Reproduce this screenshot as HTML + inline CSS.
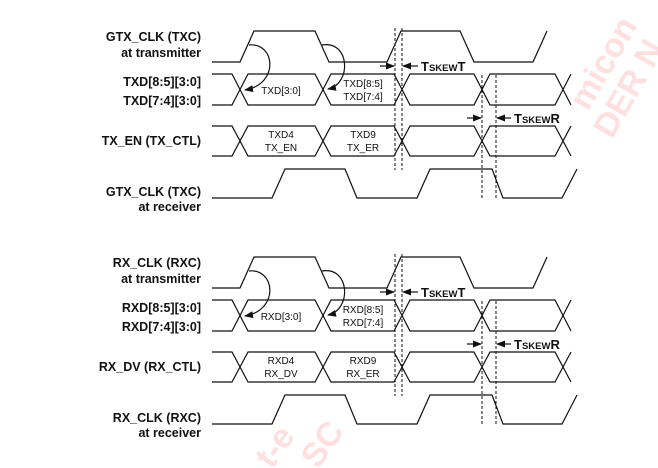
<!DOCTYPE html>
<html><head><meta charset="utf-8"><style>
html,body{margin:0;padding:0;background:#fff;}
svg{display:block;}
.lbl{font-family:"Liberation Sans",sans-serif;font-weight:bold;font-size:12.5px;fill:#111;text-anchor:end;}
.in{font-family:"Liberation Sans",sans-serif;font-size:10px;fill:#111;text-anchor:middle;}
.sk{font-family:"Liberation Sans",sans-serif;font-weight:bold;fill:#111;}
.wm{font-family:"Liberation Sans",sans-serif;font-weight:bold;fill:#ffe0e0;font-size:34px;}
</style></head><body>
<svg width="658" height="468" viewBox="0 0 658 468" xmlns="http://www.w3.org/2000/svg">
<defs>
<marker id="ah" markerWidth="9" markerHeight="8" refX="8" refY="4" orient="auto" markerUnits="userSpaceOnUse"><path d="M0,0.5 L9,4 L0,7.5 z" fill="#111"/></marker>
<g id="sec">
 <g fill="none" stroke="#111" stroke-width="1.2">
  <path d="M212,62 H240 L254,31 H315 L329,62 H387 L401,31 H460 L474,62 H533 L547,31"/>
  <path d="M212,74 H232 L248,105 H315 L331,74 H394 L410,105 H474 L490,74 H555 L571,105"/>
  <path d="M212,105 H232 L248,74 H315 L331,105 H394 L410,74 H474 L490,105 H555 L571,74"/>
  <path d="M212,126 H232 L248,156 H315 L331,126 H394 L410,156 H474 L490,126 H555 L571,156"/>
  <path d="M212,156 H232 L248,126 H315 L331,156 H394 L410,126 H474 L490,156 H555 L571,126"/>
  <path d="M212,198 H272 L285,169 H345 L357,198 H417 L430,169 H492 L503,198 H562 L577,169"/>
  <path d="M249,45 C275,42 280,84 245,90" marker-end="url(#ah)"/>
  <path d="M322,45 C350,40 352,84 328,89" marker-end="url(#ah)"/>
 </g>
 <g stroke="#111" stroke-width="1" stroke-dasharray="3,2">
  <line x1="395" y1="28" x2="395" y2="170"/>
  <line x1="402" y1="28" x2="402" y2="170"/>
  <line x1="482" y1="75" x2="482" y2="200"/>
  <line x1="496" y1="75" x2="496" y2="200"/>
 </g>
 <g stroke="#111" stroke-width="1.2">
  <line x1="380" y1="66" x2="394" y2="66" marker-end="url(#ah)"/>
  <line x1="418" y1="66" x2="403" y2="66" marker-end="url(#ah)"/>
  <line x1="467" y1="118" x2="481" y2="118" marker-end="url(#ah)"/>
  <line x1="511" y1="118" x2="497" y2="118" marker-end="url(#ah)"/>
 </g>
 <text class="sk" x="421" y="71" font-size="13">T<tspan font-size="9.5">SKEW</tspan>T</text>
 <text class="sk" x="514" y="123" font-size="13">T<tspan font-size="9.5">SKEW</tspan>R</text>
</g>
</defs>
<text class="wm" transform="translate(588,112) rotate(-60)" font-size="30">micon</text>
<text class="wm" transform="translate(612,140) rotate(-60)" font-size="30">DER N</text>
<text class="wm" transform="translate(272,470) rotate(-55)" font-size="24">t-e</text>
<text class="wm" transform="translate(318,470) rotate(-55)" font-size="24">SC</text>
<use href="#sec"/>
<use href="#sec" transform="translate(0,226)"/>
<text class="lbl" x="201" y="41">GTX_CLK (TXC)</text>
<text class="lbl" x="201" y="57">at transmitter</text>
<text class="lbl" x="201" y="86">TXD[8:5][3:0]</text>
<text class="lbl" x="201" y="105">TXD[7:4][3:0]</text>
<text class="lbl" x="201" y="145">TX_EN (TX_CTL)</text>
<text class="lbl" x="201" y="196">GTX_CLK (TXC)</text>
<text class="lbl" x="201" y="211">at receiver</text>
<text class="in" x="281" y="94">TXD[3:0]</text>
<text class="in" x="363" y="87">TXD[8:5]</text>
<text class="in" x="363" y="100">TXD[7:4]</text>
<text class="in" x="281" y="138">TXD4</text>
<text class="in" x="281" y="151">TX_EN</text>
<text class="in" x="363" y="138">TXD9</text>
<text class="in" x="363" y="151">TX_ER</text>
<text class="lbl" x="201" y="267">RX_CLK (RXC)</text>
<text class="lbl" x="201" y="283">at transmitter</text>
<text class="lbl" x="201" y="312">RXD[8:5][3:0]</text>
<text class="lbl" x="201" y="331">RXD[7:4][3:0]</text>
<text class="lbl" x="201" y="371">RX_DV (RX_CTL)</text>
<text class="lbl" x="201" y="422">RX_CLK (RXC)</text>
<text class="lbl" x="201" y="437">at receiver</text>
<text class="in" x="281" y="320">RXD[3:0]</text>
<text class="in" x="363" y="313">RXD[8:5]</text>
<text class="in" x="363" y="326">RXD[7:4]</text>
<text class="in" x="281" y="364">RXD4</text>
<text class="in" x="281" y="377">RX_DV</text>
<text class="in" x="363" y="364">RXD9</text>
<text class="in" x="363" y="377">RX_ER</text>
</svg>
</body></html>
